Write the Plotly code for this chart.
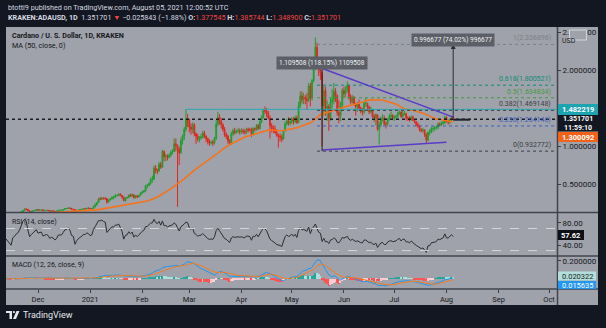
import pandas as pd
import plotly.graph_objects as go

W, H = 606, 328
def px(x): return x / W
def py(y): return 1 - y / H

# ---------------- data (daily, KRAKEN ADA/USD) ----------------
START = "2020-09-20"
warm_close = [0.090,0.088,0.084,0.082,0.090,0.093,0.095,0.094,0.095,0.097,0.100,
              0.099,0.097,0.098,0.099,0.104,0.100,0.101,0.101,0.103,0.106,0.105,0.108,0.109,0.107,0.104,0.102,
              0.103,0.103,0.106,0.104,0.108,0.114,0.112,0.109,0.106,0.101,0.103,0.099,0.098,0.100,0.101,
              0.101,0.098,0.096,0.094,0.099,0.103,0.104,0.107,0.104,0.102,0.101]
# visible candles from 2020-11-12
nov_c = [.103,.100,.098,.095,.104,.106,.110,.112,.118,.134,.153,.171,.168,.150,.131,.140,.147,.154,.165]
nov_h = [.106,.104,.101,.099,.106,.109,.113,.115,.121,.140,.158,.182,.178,.170,.152,.143,.149,.158,.168]
nov_l = [.100,.098,.095,.094,.094,.102,.104,.108,.111,.117,.130,.148,.152,.146,.115,.127,.138,.144,.152]
dec_c = [.155,.158,.160,.148,.153,.155,.152,.143,.147,.145,.139,.143,.155,.155,.156,.165,.176,.178,.185,.180,
         .167,.165,.137,.150,.158,.163,.167,.176,.175,.183,.181]
dec_h = [.170,.162,.165,.162,.156,.158,.157,.153,.149,.149,.146,.145,.158,.159,.159,.168,.185,.184,.190,.188,
         .183,.169,.166,.152,.163,.166,.172,.180,.182,.186,.187]
dec_l = [.150,.149,.153,.145,.143,.150,.149,.140,.134,.142,.133,.138,.141,.150,.152,.154,.163,.170,.176,.172,
         .158,.152,.128,.132,.146,.156,.155,.165,.168,.171,.172]
jan_c = [.175,.178,.205,.225,.258,.301,.300,.315,.310,.308,.265,.290,.305,.325,.325,.350,.350,.365,.350,.330,
         .280,.315,.320,.355,.340,.360,.320,.345,.330,.350,.380]
jan_h = [.185,.184,.215,.245,.262,.318,.330,.325,.322,.330,.310,.298,.312,.336,.345,.365,.360,.380,.380,.355,
         .333,.325,.335,.362,.372,.375,.360,.350,.352,.358,.390]
jan_l = [.168,.170,.176,.190,.218,.255,.285,.290,.296,.290,.240,.255,.280,.300,.300,.320,.336,.340,.340,.305,
         .275,.270,.306,.318,.330,.335,.310,.310,.320,.325,.345]
feb_c = [.395,.410,.475,.480,.510,.560,.565,.710,.680,.670,.760,.720,.930,.860,.870,.850,.880,.920,.930,1.03,
         1.01,.960,.910,1.07,1.13,1.22,1.36,1.35]
feb_h = [.410,.420,.490,.500,.520,.585,.610,.740,.750,.700,.790,.790,.950,.940,.900,.890,.900,.940,.960,1.10,
         1.10,1.02,.990,1.11,1.15,1.25,1.48,1.42]
feb_l = [.370,.385,.400,.440,.470,.490,.520,.550,.640,.630,.660,.700,.710,.800,.800,.810,.840,.860,.890,.920,
         .930,.200,.750,.900,1.02,1.08,1.19,1.25]
mar_c = [1.25,1.22,1.28,1.16,1.13,1.09,1.11,1.12,1.17,1.13,1.10,1.06,1.04,1.05,1.04,1.10,1.29,1.38,1.33,1.28,
         1.22,1.15,1.13,1.07,1.04,1.16,1.20,1.18,1.20,1.20,1.19]
mar_h = [1.33,1.30,1.31,1.30,1.18,1.16,1.13,1.16,1.20,1.20,1.14,1.11,1.09,1.07,1.08,1.12,1.34,1.45,1.42,1.37,
         1.30,1.25,1.18,1.15,1.09,1.19,1.23,1.24,1.22,1.24,1.23]
mar_l = [1.18,1.15,1.17,1.13,1.03,1.06,1.05,1.08,1.10,1.10,1.05,1.02,1.00,1.02,1.00,1.02,1.08,1.26,1.28,1.23,
         1.19,1.12,1.09,1.03,1.01,1.02,1.13,1.15,1.16,1.17,1.15]
apr_c = [1.20,1.19,1.18,1.22,1.21,1.21,1.15,1.23,1.22,1.27,1.23,1.32,1.38,1.47,1.46,1.43,1.37,1.27,1.24,1.22,
         1.18,1.14,1.13,1.12,1.09,1.20,1.29,1.33,1.30,1.32]
apr_h = [1.23,1.23,1.22,1.24,1.24,1.24,1.24,1.25,1.24,1.29,1.29,1.34,1.40,1.49,1.52,1.50,1.46,1.40,1.30,1.27,
         1.27,1.22,1.16,1.17,1.15,1.21,1.32,1.36,1.38,1.34]
apr_l = [1.16,1.16,1.15,1.16,1.18,1.19,1.12,1.14,1.19,1.20,1.21,1.22,1.30,1.36,1.42,1.38,1.35,1.10,1.18,1.17,
         1.16,1.12,.98,1.06,1.05,1.08,1.19,1.27,1.27,1.27]
may_c = [1.36,1.32,1.37,1.31,1.53,1.66,1.61,1.64,1.62,1.60,1.79,1.63,1.86,2.05,2.30,2.15,2.00,1.96,1.53,1.73,
         1.49,1.52,1.36,1.58,1.61,1.72,1.66,1.44,1.40,1.53,1.73]
may_h = [1.38,1.38,1.40,1.40,1.58,1.72,1.72,1.70,1.67,1.70,1.83,1.83,1.88,2.10,2.43,2.36,2.16,2.07,1.98,1.80,
         1.78,1.60,1.55,1.63,1.75,1.83,1.76,1.68,1.60,1.58,1.76]
may_l = [1.29,1.28,1.30,1.29,1.30,1.50,1.56,1.55,1.55,1.48,1.58,1.52,1.60,1.84,2.00,2.08,1.92,1.87,1.00,1.40,
         1.40,1.33,1.20,1.33,1.50,1.55,1.58,1.40,1.30,1.33,1.47]
jun_c = [1.69,1.74,1.80,1.65,1.58,1.64,1.56,1.52,1.55,1.50,1.46,1.45,1.56,1.56,1.51,1.45,1.47,1.39,1.37,1.41,
         1.22,1.28,1.36,1.37,1.29,1.29,1.36,1.39,1.40,1.37]
jun_h = [1.78,1.79,1.85,1.81,1.68,1.67,1.66,1.57,1.58,1.61,1.52,1.50,1.58,1.64,1.57,1.53,1.52,1.48,1.42,1.43,
         1.41,1.32,1.39,1.42,1.40,1.32,1.37,1.42,1.45,1.42]
jun_l = [1.63,1.64,1.70,1.61,1.55,1.56,1.53,1.40,1.45,1.47,1.43,1.40,1.42,1.52,1.47,1.42,1.43,1.37,1.32,1.27,
         1.20,1.02,1.25,1.32,1.27,1.23,1.26,1.33,1.36,1.34]
jul_c = [1.39,1.39,1.43,1.45,1.39,1.43,1.43,1.37,1.37,1.35,1.38,1.34,1.32,1.28,1.26,1.22,1.20,1.21,1.16,1.08,
         1.18,1.18,1.23,1.23,1.24,1.25,1.29,1.28,1.30,1.31,1.38]
jul_h = [1.40,1.41,1.45,1.47,1.45,1.46,1.46,1.43,1.39,1.39,1.40,1.40,1.35,1.33,1.31,1.28,1.23,1.24,1.22,1.16,
         1.19,1.22,1.25,1.26,1.26,1.27,1.31,1.31,1.32,1.33,1.40]
jul_l = [1.33,1.35,1.37,1.41,1.37,1.37,1.40,1.34,1.33,1.32,1.33,1.33,1.30,1.26,1.24,1.19,1.18,1.18,1.12,1.04,
         1.06,1.14,1.17,1.19,1.20,1.22,1.22,1.26,1.26,1.28,1.29]
aug_c = [1.32,1.32,1.34,1.377545,1.351701]
aug_h = [1.39,1.35,1.36,1.40,1.385744]
aug_l = [1.31,1.28,1.29,1.32,1.348900]

fib_levels = [1.0, 0.618, 0.5, 0.382, 0.236, 0.0]
fib_prices = [2.336896, 1.800521, 1.634834, 1.469148, 1.264146, 0.932772]
fib_colors = ["#7d8089", "#0b8a78", "#3f9b3f", "#3d3f45", "#3a5fc0", "#3d3f45"]

month_ticks = ["2020-12-01","2021-01-01","2021-02-01","2021-03-01","2021-04-01","2021-05-01",
               "2021-06-01","2021-07-01","2021-08-01","2021-09-01","2021-10-01"]
month_text = ["Dec","2021","Feb","Mar","Apr","May","Jun","Jul","Aug","Sep","Oct"]

# ---------------- build series ----------------
vis_c = nov_c+dec_c+jan_c+feb_c+mar_c+apr_c+may_c+jun_c+jul_c+aug_c
vis_h = nov_h+dec_h+jan_h+feb_h+mar_h+apr_h+may_h+jun_h+jul_h+aug_h
vis_l = nov_l+dec_l+jan_l+feb_l+mar_l+apr_l+may_l+jun_l+jul_l+aug_l
closes = warm_close + vis_c
dates = pd.date_range(START, periods=len(closes), freq="D")
s = pd.Series(closes, index=dates)
opens = s.shift(1).bfill()
nw = len(warm_close)
n = min(len(vis_c), len(vis_h), len(vis_l))
vd = dates[nw:nw+n]

ma50 = s.rolling(50, min_periods=1).mean()
d = s.diff()
up = d.clip(lower=0).ewm(alpha=1/14, adjust=False).mean()
dn = (-d.clip(upper=0)).ewm(alpha=1/14, adjust=False).mean()
rsi = 100 - 100/(1 + up/dn)
macd = s.ewm(span=12, adjust=False).mean() - s.ewm(span=26, adjust=False).mean()
sig = macd.ewm(span=9, adjust=False).mean()
hist = macd - sig
hcol = []
hv = hist.values
for i in range(len(hv)):
    prev = hv[i-1] if i > 0 else 0
    if hv[i] >= 0:
        hcol.append("#26a69a" if hv[i] > prev else "#b2dfdb")
    else:
        hcol.append("#ff5252" if hv[i] < prev else "#ffcdd2")

GREEN, RED = "#1f9e2c", "#e3251d"
fig = go.Figure()
fig.add_trace(go.Candlestick(x=vd, open=opens.values[nw:nw+n], high=vis_h[:n], low=vis_l[:n], close=vis_c[:n],
                             increasing=dict(line=dict(color=GREEN, width=1), fillcolor=GREEN),
                             decreasing=dict(line=dict(color=RED, width=1), fillcolor=RED),
                             xaxis="x", yaxis="y", hoverinfo="skip"))
fig.add_trace(go.Scatter(x=dates[nw:], y=ma50.values[nw:], mode="lines",
                         line=dict(color="#f5731c", width=1.6), xaxis="x", yaxis="y", hoverinfo="skip"))
fig.add_trace(go.Scatter(x=dates[nw:], y=rsi.values[nw:], mode="lines",
                         line=dict(color="#2b2d33", width=1), xaxis="x2", yaxis="y2", hoverinfo="skip"))
fig.add_trace(go.Bar(x=dates[nw:], y=hv[nw:], marker=dict(color=hcol[nw:], line=dict(width=0)),
                     width=86400000*0.8, xaxis="x3", yaxis="y3", hoverinfo="skip"))
fig.add_trace(go.Scatter(x=dates[nw:], y=macd.values[nw:], mode="lines",
                         line=dict(color="#2196f3", width=1), xaxis="x3", yaxis="y3", hoverinfo="skip"))
fig.add_trace(go.Scatter(x=dates[nw:], y=sig.values[nw:], mode="lines",
                         line=dict(color="#f57c1f", width=1), xaxis="x3", yaxis="y3", hoverinfo="skip"))

XR = ["2020-11-11 23:00", "2021-10-05 18:00"]
FONT = "Roboto"
TXT = "#15171c"
ax_common = dict(showgrid=False, zeroline=False, showline=False, fixedrange=True)
fig.update_layout(
    width=W, height=H, margin=dict(l=0, r=0, t=0, b=0),
    paper_bgcolor="#131722", plot_bgcolor="rgba(0,0,0,0)", showlegend=False,
    font=dict(family=FONT, size=8, color=TXT), bargap=0,
    xaxis=dict(domain=[px(6), px(557)], range=XR, type="date", anchor="y", showticklabels=False,
               rangeslider=dict(visible=False), **ax_common),
    xaxis2=dict(domain=[px(6), px(557)], range=XR, type="date", anchor="y2", matches="x",
                showticklabels=False, **ax_common),
    xaxis3=dict(domain=[px(6), px(557)], range=XR, type="date", anchor="y3", matches="x",
                tickvals=month_ticks, ticktext=month_text, ticks="outside", ticklen=3,
                tickcolor="#3a3d45", tickfont=dict(size=7.5, color=TXT), **ax_common),
    yaxis=dict(domain=[py(212), py(27)], range=[0.132, 2.566], side="right", anchor="x",
               tickvals=[0.5, 1, 2, 2.5], ticktext=["0.500000", "1.000000", "2.000000", "2.500000"],
               ticks="outside", ticklen=3, tickcolor="#3a3d45", tickfont=dict(size=8, color=TXT), **ax_common),
    yaxis2=dict(domain=[py(255), py(213)], range=[22, 98], side="right", anchor="x2",
                tickvals=[40, 80], ticktext=["40.00", "80.00"],
                ticks="outside", ticklen=3, tickcolor="#3a3d45", tickfont=dict(size=8, color=TXT), **ax_common),
    yaxis3=dict(domain=[py(289), py(257)], range=[-0.111, 0.244], side="right", anchor="x3",
                tickvals=[0.2], ticktext=["0.200000"],
                ticks="outside", ticklen=3, tickcolor="#3a3d45", tickfont=dict(size=8, color=TXT), **ax_common),
)

shapes = []
ann = []
# panel background
shapes.append(dict(type="rect", xref="paper", yref="paper", x0=px(6), x1=px(598), y0=py(305), y1=py(27),
                   fillcolor="#9fa2aa", line=dict(width=0), layer="below"))
SEP = "#41444c"
for yy in [212.5, 256, 289]:
    shapes.append(dict(type="line", xref="paper", yref="paper", x0=px(6), x1=px(598), y0=py(yy), y1=py(yy),
                       line=dict(color=SEP, width=1.5)))
shapes.append(dict(type="line", xref="paper", yref="paper", x0=px(557.5), x1=px(557.5), y0=py(305), y1=py(27),
                   line=dict(color=SEP, width=1.5)))
# RSI bands
for lv in [70, 30]:
    shapes.append(dict(type="line", xref="x2 domain", yref="y2", x0=0, x1=1, y0=lv, y1=lv,
                       line=dict(color="#d4d6db", width=1, dash="dash")))
# teal horizontal line
shapes.append(dict(type="line", xref="x", yref="y", x0="2021-02-27", x1=XR[1], y0=1.482219, y1=1.482219,
                   line=dict(color="#2aa8b5", width=1)))
# fib lines
for lv, pr, col in zip(fib_levels, fib_prices, fib_colors):
    shapes.append(dict(type="line", xref="x", yref="y", x0="2021-05-16", x1=XR[1], y0=pr, y1=pr,
                       line=dict(color=col, width=1, dash="dot")))
    ann.append(dict(xref="paper", yref="y", x=px(553), y=pr, xanchor="right", yanchor="bottom",
                    text=f"{lv:g}({pr:.6f})", showarrow=False, font=dict(size=7, color=col, family=FONT)))
# current price dotted line
shapes.append(dict(type="line", xref="x domain", yref="y", x0=0, x1=1, y0=1.351701, y1=1.351701,
                   line=dict(color="#1b1d22", width=1.5, dash="dot")))
# triangle
shapes.append(dict(type="line", xref="x", yref="y", x0="2021-05-18", y0=2.03, x1="2021-08-05", y1=1.38,
                   line=dict(color="#5a3cc8", width=1.5)))
shapes.append(dict(type="line", xref="x", yref="y", x0="2021-05-19", y0=0.947, x1="2021-08-01", y1=1.05,
                   line=dict(color="#5a3cc8", width=1.5)))
# measure 1
shapes.append(dict(type="line", xref="x", yref="y", x0="2021-05-19", x1="2021-05-19", y0=0.932772, y1=2.04228,
                   line=dict(color="#1e2026", width=1)))
ann.append(dict(xref="x", yref="paper", x="2021-05-19", y=py(56.5), text="1.109508 (118.15%) 1109508",
                showarrow=False, bgcolor="#5c5f67", borderpad=2, font=dict(size=6.5, color="#f0f0f0", family=FONT)))
# measure 2
shapes.append(dict(type="line", xref="x", yref="y", x0="2021-07-26", x1="2021-08-14", y0=2.343, y1=2.343,
                   line=dict(color="#3a3d45", width=2)))
shapes.append(dict(type="line", xref="x", yref="y", x0="2021-08-05", x1="2021-08-15", y0=1.3465, y1=1.3465,
                   line=dict(color="#1e2026", width=2)))
ann.append(dict(xref="x", yref="y", x="2021-08-05", y=2.343, axref="x", ayref="y", ax="2021-08-05", ay=1.3465,
                text="", showarrow=True, arrowhead=2, arrowsize=1, arrowwidth=1, arrowcolor="#2a2d33"))
ann.append(dict(xref="x", yref="paper", x="2021-08-05", y=py(33), text="0.996677 (74.02%) 996677",
                showarrow=False, bgcolor="#5c5f67", borderpad=2, font=dict(size=6.5, color="#f0f0f0", family=FONT)))

# right-side price labels
def tag(x0, x1, y0, y1, fill, text, color="#ffffff", size=7.5):
    shapes.append(dict(type="rect", xref="paper", yref="paper", x0=px(x0), x1=px(x1), y0=py(y1), y1=py(y0),
                       fillcolor=fill, line=dict(width=0), layer="above"))
    ann.append(dict(xref="paper", yref="paper", x=px((x0+x1)/2), y=py((y0+y1)/2), text=text, showarrow=False,
                    font=dict(size=size, color=color, family=FONT), xanchor="center", yanchor="middle"))
tag(558, 598, 104, 115, "#1ea3b1", "<b>1.482219</b>")
tag(558, 598, 115, 131.5, "#131722", "<b>1.351701</b><br><b>11:59:10</b>", size=7)
tag(558, 598, 132, 142, "#f4621a", "<b>1.300092</b>")
tag(558, 584, 230, 240, "#0e1015", "<b>57.62</b>")
tag(558, 596, 271.5, 280.5, "#b2dfdb", "0.020322", color="#1b1d22")
tag(558, 596, 281, 289, "#2196f3", "0.015635")
# USD box
shapes.append(dict(type="rect", xref="paper", yref="paper", x0=px(569.5), x1=px(586.5), y0=py(40), y1=py(30),
                   fillcolor="#9fa2aa", line=dict(color="#d3d5da", width=1), layer="above"))
ann.append(dict(xref="paper", yref="paper", x=px(578), y=py(35), text="USD", showarrow=False,
                font=dict(size=7, color="#1f2126", family=FONT)))

# header
RD = "#f0463f"
ann.append(dict(xref="paper", yref="paper", x=px(6), y=py(7.5), xanchor="left", yanchor="middle", showarrow=False,
                text="btotti9 published on TradingView.com, August 05, 2021 12:00:52 UTC",
                font=dict(size=7.2, color="#d8dae0", family=FONT)))
ann.append(dict(xref="paper", yref="paper", x=px(6), y=py(17.5), xanchor="left", yanchor="middle", showarrow=False,
                text=("<b>KRAKEN:ADAUSD, 1D</b>  1.351701 "
                      f"<span style='color:{RD}'>▼</span> −0.025843 (−1.88%) "
                      f"<b>O:</b><span style='color:{RD}'>1.377545</span> "
                      f"<b>H:</b><span style='color:{RD}'>1.385744</span> "
                      f"<b>L:</b><span style='color:{RD}'>1.348900</span> "
                      f"<b>C:</b><span style='color:{RD}'>1.351701</span>"),
                font=dict(size=7.2, color="#d8dae0", family=FONT)))
# pane titles
ann.append(dict(xref="paper", yref="paper", x=px(10), y=py(35.5), xanchor="left", yanchor="middle", showarrow=False,
                text="<b>Cardano / U. S. Dollar, 1D, KRAKEN</b>", font=dict(size=7.2, color="#16181d", family=FONT)))
ann.append(dict(xref="paper", yref="paper", x=px(10), y=py(45), xanchor="left", yanchor="middle", showarrow=False,
                text="MA (50, close, 0)", font=dict(size=7.2, color="#16181d", family=FONT)))
ann.append(dict(xref="paper", yref="paper", x=px(10), y=py(222), xanchor="left", yanchor="middle", showarrow=False,
                text="RSI (14, close)", font=dict(size=7, color="#16181d", family=FONT)))
ann.append(dict(xref="paper", yref="paper", x=px(10), y=py(265), xanchor="left", yanchor="middle", showarrow=False,
                text="MACD (12, 26, close, 9)", font=dict(size=7, color="#16181d", family=FONT)))
# TradingView logo
shapes.append(dict(type="rect", xref="paper", yref="paper", x0=px(6), x1=px(12), y0=py(313), y1=py(311),
                   fillcolor="#e6e8ec", line=dict(width=0)))
shapes.append(dict(type="rect", xref="paper", yref="paper", x0=px(9.5), x1=px(12), y0=py(319), y1=py(311),
                   fillcolor="#e6e8ec", line=dict(width=0)))
shapes.append(dict(type="circle", xref="paper", yref="paper", x0=px(12.8), x1=px(15), y0=py(313.2), y1=py(311),
                   fillcolor="#e6e8ec", line=dict(width=0)))
shapes.append(dict(type="path", xref="paper", yref="paper",
                   path=f"M {px(16.5)} {py(311)} L {px(19.5)} {py(311)} L {px(16)} {py(319)} L {px(13)} {py(319)} Z",
                   fillcolor="#e6e8ec", line=dict(width=0)))
ann.append(dict(xref="paper", yref="paper", x=px(21), y=py(315), xanchor="left", yanchor="middle", showarrow=False,
                text="TradingView", font=dict(size=9, color="#e6e8ec", family=FONT)))

fig.update_layout(shapes=shapes, annotations=ann)
fig.write_html("out.html")
